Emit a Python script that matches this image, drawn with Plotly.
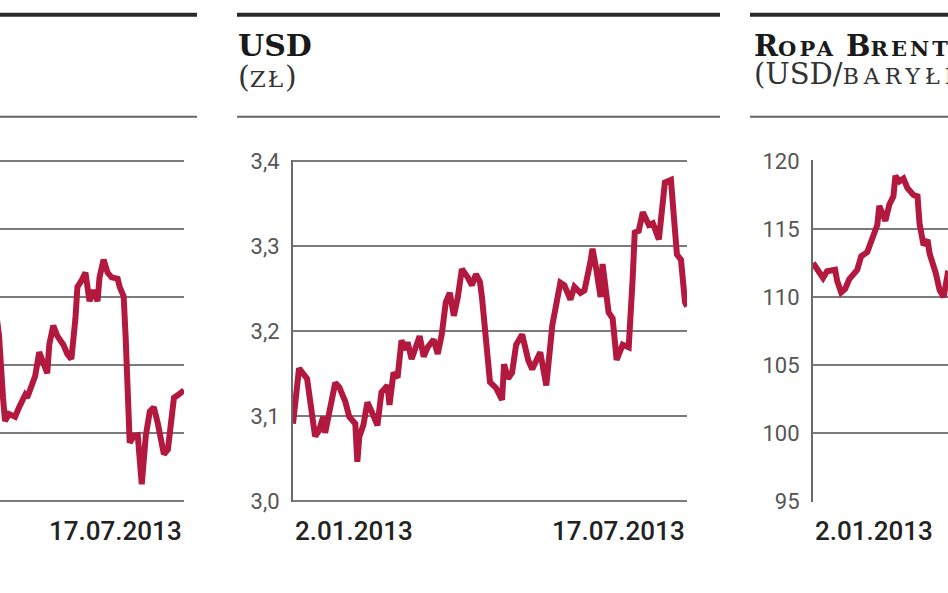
import plotly.graph_objects as go

W, H = 948, 593

# ---------------- data ----------------
# left panel (only its right part is visible in the reference crop)
left_dates = ["2013-04-14", "2013-04-16", "2013-04-18", "2013-04-19", "2013-04-21", "2013-04-24",
              "2013-04-26", "2013-04-29", "2013-04-30", "2013-05-02", "2013-05-04", "2013-05-06",
              "2013-05-08", "2013-05-10", "2013-05-11", "2013-05-13", "2013-05-15", "2013-05-18",
              "2013-05-20", "2013-05-22", "2013-05-24", "2013-05-25", "2013-05-27", "2013-05-29",
              "2013-05-31", "2013-06-02", "2013-06-04", "2013-06-05", "2013-06-07", "2013-06-09",
              "2013-06-11", "2013-06-14", "2013-06-15", "2013-06-17", "2013-06-18", "2013-06-19",
              "2013-06-20", "2013-06-22", "2013-06-24", "2013-06-26", "2013-06-28", "2013-06-30",
              "2013-07-02", "2013-07-04", "2013-07-07", "2013-07-09", "2013-07-11", "2013-07-12",
              "2013-07-14", "2013-07-17"]
left_vals = [4.290, 4.244, 4.152, 4.118, 4.128, 4.124,
             4.138, 4.156, 4.152, 4.167, 4.184, 4.219,
             4.202, 4.188, 4.230, 4.258, 4.243, 4.230,
             4.216, 4.209, 4.268, 4.315, 4.324, 4.336,
             4.294, 4.310, 4.294, 4.329, 4.355, 4.336,
             4.329, 4.327, 4.315, 4.301, 4.240, 4.146,
             4.086, 4.096, 4.097, 4.025, 4.096, 4.132,
             4.138, 4.114, 4.069, 4.076, 4.118, 4.152,
             4.156, 4.163]
left_ticks = [4.0, 4.1, 4.2, 4.3, 4.4, 4.5]

# USD (zł)
usd_dates = ["2013-01-02", "2013-01-05", "2013-01-09", "2013-01-13", "2013-01-15", "2013-01-17",
             "2013-01-18", "2013-01-23", "2013-01-25", "2013-01-28", "2013-01-30", "2013-02-02",
             "2013-02-03", "2013-02-04", "2013-02-06", "2013-02-08", "2013-02-10", "2013-02-13",
             "2013-02-15", "2013-02-18", "2013-02-19", "2013-02-21", "2013-02-23", "2013-02-25",
             "2013-02-27", "2013-02-28", "2013-03-02", "2013-03-04", "2013-03-06", "2013-03-08",
             "2013-03-10", "2013-03-13", "2013-03-15", "2013-03-17", "2013-03-19", "2013-03-21",
             "2013-03-23", "2013-03-25", "2013-03-27", "2013-03-30", "2013-04-01", "2013-04-03",
             "2013-04-05", "2013-04-06", "2013-04-08", "2013-04-10", "2013-04-13", "2013-04-16",
             "2013-04-17", "2013-04-19", "2013-04-21", "2013-04-23", "2013-04-26", "2013-04-29",
             "2013-05-01", "2013-05-05", "2013-05-08", "2013-05-11", "2013-05-15", "2013-05-17",
             "2013-05-20", "2013-05-22", "2013-05-25", "2013-05-27", "2013-05-30", "2013-05-31",
             "2013-06-02", "2013-06-04", "2013-06-05", "2013-06-08", "2013-06-10", "2013-06-12",
             "2013-06-15", "2013-06-18", "2013-06-20", "2013-06-21", "2013-06-23", "2013-06-25",
             "2013-06-28", "2013-06-30", "2013-07-03", "2013-07-05", "2013-07-06", "2013-07-09",
             "2013-07-11", "2013-07-12", "2013-07-14", "2013-07-16", "2013-07-17"]
usd_vals = [3.091, 3.156, 3.144, 3.076, 3.083, 3.099,
            3.080, 3.139, 3.134, 3.117, 3.099, 3.091,
            3.046, 3.076, 3.089, 3.116, 3.106, 3.089,
            3.128, 3.136, 3.113, 3.151, 3.145, 3.189,
            3.178, 3.187, 3.167, 3.181, 3.194, 3.170,
            3.181, 3.190, 3.173, 3.196, 3.234, 3.245,
            3.218, 3.240, 3.273, 3.263, 3.254, 3.267,
            3.258, 3.240, 3.190, 3.140, 3.133, 3.119,
            3.161, 3.144, 3.151, 3.184, 3.196, 3.166,
            3.155, 3.175, 3.136, 3.207, 3.257, 3.254,
            3.237, 3.252, 3.245, 3.248, 3.282, 3.297,
            3.271, 3.240, 3.279, 3.222, 3.215, 3.166,
            3.184, 3.181, 3.263, 3.316, 3.318, 3.340,
            3.325, 3.327, 3.308, 3.358, 3.375, 3.378,
            3.330, 3.290, 3.284, 3.234, 3.229]
usd_ticks = [3.0, 3.1, 3.2, 3.3, 3.4]

# Ropa Brent (USD/baryłka) – only the beginning is visible in the crop
brent_dates = ["2013-01-02", "2013-01-04", "2013-01-07", "2013-01-09", "2013-01-11", "2013-01-13",
               "2013-01-14", "2013-01-16", "2013-01-18", "2013-01-20", "2013-01-24", "2013-01-26",
               "2013-01-29", "2013-01-31", "2013-02-03", "2013-02-04", "2013-02-07", "2013-02-09",
               "2013-02-11", "2013-02-12", "2013-02-14", "2013-02-16", "2013-02-18", "2013-02-21",
               "2013-02-23", "2013-02-24", "2013-02-26", "2013-02-28", "2013-03-01", "2013-03-04",
               "2013-03-06", "2013-03-08", "2013-03-10", "2013-03-12"]
brent_vals = [112.5, 112.0, 111.4, 111.9, 111.9, 112.0,
              111.2, 110.35, 110.6, 111.3, 112.0, 113.0,
              113.3, 114.0, 115.3, 116.7, 115.6, 116.8,
              117.4, 118.9, 118.5, 118.7, 118.0, 117.5,
              117.4, 115.4, 113.8, 114.2, 113.2, 111.8,
              110.5, 110.0, 111.7, 111.6]
brent_ticks = [95, 100, 105, 110, 115, 120]

start_label = "2.01.2013"
end_label = "17.07.2013"

# ---------------- style ----------------
LINE_COLOR = "#b3183f"
GRID = "#7b7b7b"
AX = "#6a6a6a"
TICK_FONT = dict(family="Roboto", size=22, color="#555555")
DATE_FONT = dict(family="Roboto", size=26, color="#222222", weight=500)
SERIF = "DejaVu Serif"


def px_x(p):
    return p / W


def px_y(p):
    return 1 - p / H


y_dom = [px_y(511), px_y(155)]

fig = go.Figure()
for xs, ys, xa, ya in [(left_dates, left_vals, "x", "y"),
                       (usd_dates, usd_vals, "x2", "y2"),
                       (brent_dates, brent_vals, "x3", "y3")]:
    fig.add_trace(go.Scatter(x=xs, y=ys, mode="lines", xaxis=xa, yaxis=ya,
                             line=dict(color=LINE_COLOR, width=6), showlegend=False, hoverinfo="skip"))

xcommon = dict(type="date", showgrid=False, showticklabels=False, zeroline=False,
               showline=False, ticks="", fixedrange=True)
ycommon = dict(showgrid=True, gridcolor=GRID, gridwidth=2, zeroline=False, ticks="",
               tickfont=TICK_FONT, ticklabelstandoff=7, fixedrange=True)

fig.update_layout(
    width=W, height=H,
    margin=dict(l=0, r=0, t=0, b=0),
    paper_bgcolor="white", plot_bgcolor="white",
    separators=", ",
    xaxis=dict(xcommon, domain=[0, px_x(184)], range=["2013-04-16 12:00", "2013-07-17"], anchor="y"),
    yaxis=dict(ycommon, domain=y_dom, range=[3.9985, 4.5015], tickvals=left_ticks,
               showticklabels=False, showline=False, anchor="x"),
    xaxis2=dict(xcommon, domain=[px_x(293), px_x(687)], range=["2013-01-02", "2013-07-17"], anchor="y2"),
    yaxis2=dict(ycommon, domain=y_dom, range=[2.9985, 3.4015], tickvals=usd_ticks, tickformat=".1f",
                showline=True, linecolor=AX, linewidth=2, anchor="x2"),
    xaxis3=dict(xcommon, domain=[px_x(813), 1], range=["2013-01-02", "2013-03-10 04:00"], anchor="y3"),
    yaxis3=dict(ycommon, domain=y_dom, range=[94.93, 120.07], tickvals=brent_ticks, tickformat="d",
                showline=True, linecolor=AX, linewidth=2, anchor="x3"),
)

# header rules
shapes = []
for a, b in [(0, 197), (237, 720), (750, 948)]:
    shapes.append(dict(type="line", xref="paper", yref="paper", x0=px_x(a), x1=px_x(b),
                       y0=px_y(4), y1=px_y(4), line=dict(color="#2a2a2a", width=4)))
    shapes.append(dict(type="line", xref="paper", yref="paper", x0=px_x(a), x1=px_x(b),
                       y0=px_y(110), y1=px_y(110), line=dict(color="#666666", width=2)))
fig.update_layout(shapes=shapes)

SC = "font-size:{}px;letter-spacing:{}px"
ann = []
# titles
ann.append(dict(xref="paper", yref="paper", x=px_x(236), y=px_y(36), xanchor="left", yanchor="middle",
                text="<b>USD</b>", showarrow=False, font=dict(family=SERIF, size=30, color="#1a1a1a")))
ann.append(dict(xref="paper", yref="paper", x=px_x(236), y=px_y(68), xanchor="left", yanchor="middle",
                text="(<span style='" + SC.format(23, 2) + "'>ZŁ</span>)", showarrow=False,
                font=dict(family=SERIF, size=30, color="#333333")))
ann.append(dict(xref="paper", yref="paper", x=px_x(752), y=px_y(36), xanchor="left", yanchor="middle",
                text="<b>R<span style='" + SC.format(21, 3) + "'>OPA</span> B<span style='"
                     + SC.format(21, 3) + "'>RENT</span></b>",
                showarrow=False, font=dict(family=SERIF, size=29, color="#1a1a1a")))
ann.append(dict(xref="paper", yref="paper", x=px_x(752), y=px_y(66), xanchor="left", yanchor="middle",
                text="(USD/<span style='" + SC.format(22, 5) + "'>BARYŁKA</span>)", showarrow=False,
                font=dict(family=SERIF, size=29, color="#333333")))
# date labels
for xr, x, anc, t in [("x domain", 1, "right", end_label),
                      ("x2 domain", 0, "left", start_label),
                      ("x2 domain", 1, "right", end_label),
                      ("x3 domain", 0, "left", start_label)]:
    ann.append(dict(xref=xr, yref="paper", x=x, y=px_y(541), xanchor=anc, yanchor="middle",
                    text=t, showarrow=False, font=DATE_FONT))
fig.update_layout(annotations=ann)

fig.write_html("out.html", config={"displayModeBar": False, "staticPlot": True},
               post_script="document.body.style.margin='0px';document.body.style.overflow='hidden';")
